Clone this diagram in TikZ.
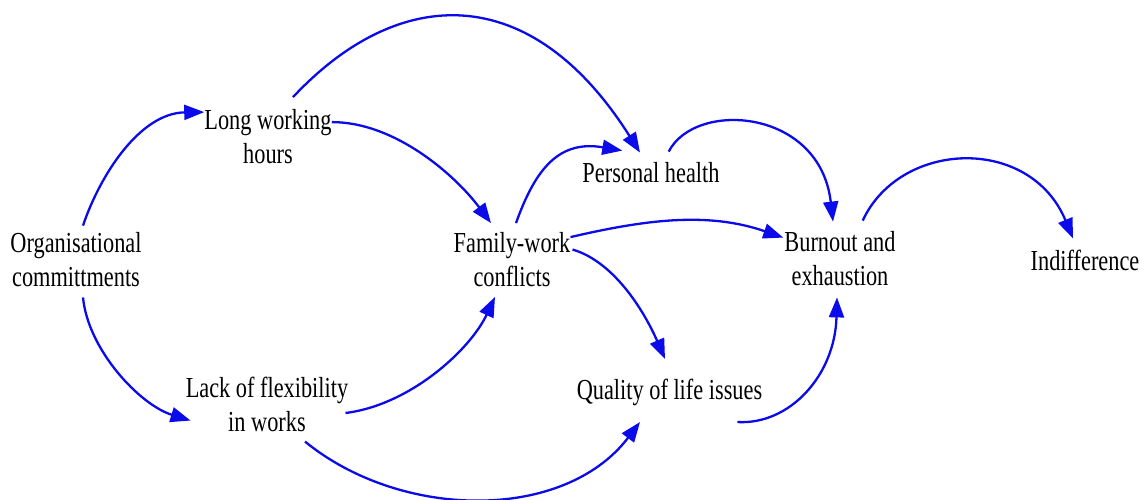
\documentclass[tikz,border=0pt]{standalone}
\usepackage{fontspec}
\setmainfont{Liberation Serif}[FakeStretch=0.77]
\usetikzlibrary{arrows.meta,calc}
\definecolor{arrblue}{RGB}{10,10,235}
\begin{document}
\begin{tikzpicture}[x=1pt,y=-1pt,
  lbl/.style={font=\fontsize{29}{34}\selectfont, inner sep=0pt, align=center, text=black},
  arr/.style={draw=arrblue, line width=2.3pt, -{Triangle[length=20pt,width=15pt]}}]
\useasboundingbox (0,0) rectangle (1146,499);
\node[lbl] (org)  at (76,260)     {Organisational\\committments};
\node[lbl] (long) at (268,136.5)  {Long working\\hours};
\node[lbl] (lack) at (267,404)    {Lack of flexibility\\in works};
\node[lbl] (fam)  at (512,259.5)  {Family-work\\conflicts};
\node[lbl] (ph)   at (651,173)    {Personal health};
\node[lbl] (qual) at (669.5,392.5){Quality of life issues};
\node[lbl] (burn) at (840,259)    {Burnout and\\exhaustion};
\node[lbl] (ind)  at (1085,260)   {Indifference};

\draw[arr] ($(org.north)+(7,-7)$) .. controls (100,175) and (140,113) .. ($(long.north west)+(0,3)$);
\draw[arr] ($(org.south)+(7,10)$) .. controls (88,350) and (140,405) .. ($(lack.south west)+(5,-11)$);
\draw[arr] ($(long.north)+(25,-12)$) .. controls (399,-16) and (531,-20) .. ($(ph.north)+(-11,-10)$);
\draw[arr] ($(long.north east)+(0,13)$) .. controls (395,122) and (455,175) .. ($(fam.north)+(-21,-9)$);
\draw[arr] ($(lack.east)+(-3,9)$) .. controls (410,405) and (470,350) .. ($(fam.south)+(-17,10)$);
\draw[arr] ($(lack.south)+(38,10)$) .. controls (401,520) and (564,522) .. ($(qual.south)+(-29.5,16)$);
\draw[arr] ($(fam.north)+(4,-9)$) .. controls (536,167) and (560,140) .. ($(ph.north west)+(40,-12)$);
\draw[arr] ($(fam.north east)+(0,5)$) .. controls (648,219) and (709,212) .. ($(burn.north west)+(-1,6)$);
\draw[arr] ($(fam.east)+(2,-10)$) .. controls (615,262) and (645,313) .. ($(qual.north)+(-4.5,-20)$);
\draw[arr] ($(ph.north east)+(-51,-11)$) .. controls (695,100) and (820,108) .. ($(burn.north)+(-7,-10)$);
\draw[arr] ($(qual.south east)+(-25,16)$) .. controls (790,425) and (835,375) .. ($(burn.south)+(-3,11)$);
\draw[arr] ($(burn.north east)+(-33,-11)$) .. controls (900,140) and (1030,135) .. ($(ind.north)+(-12,-11)$);
\end{tikzpicture}
\end{document}
